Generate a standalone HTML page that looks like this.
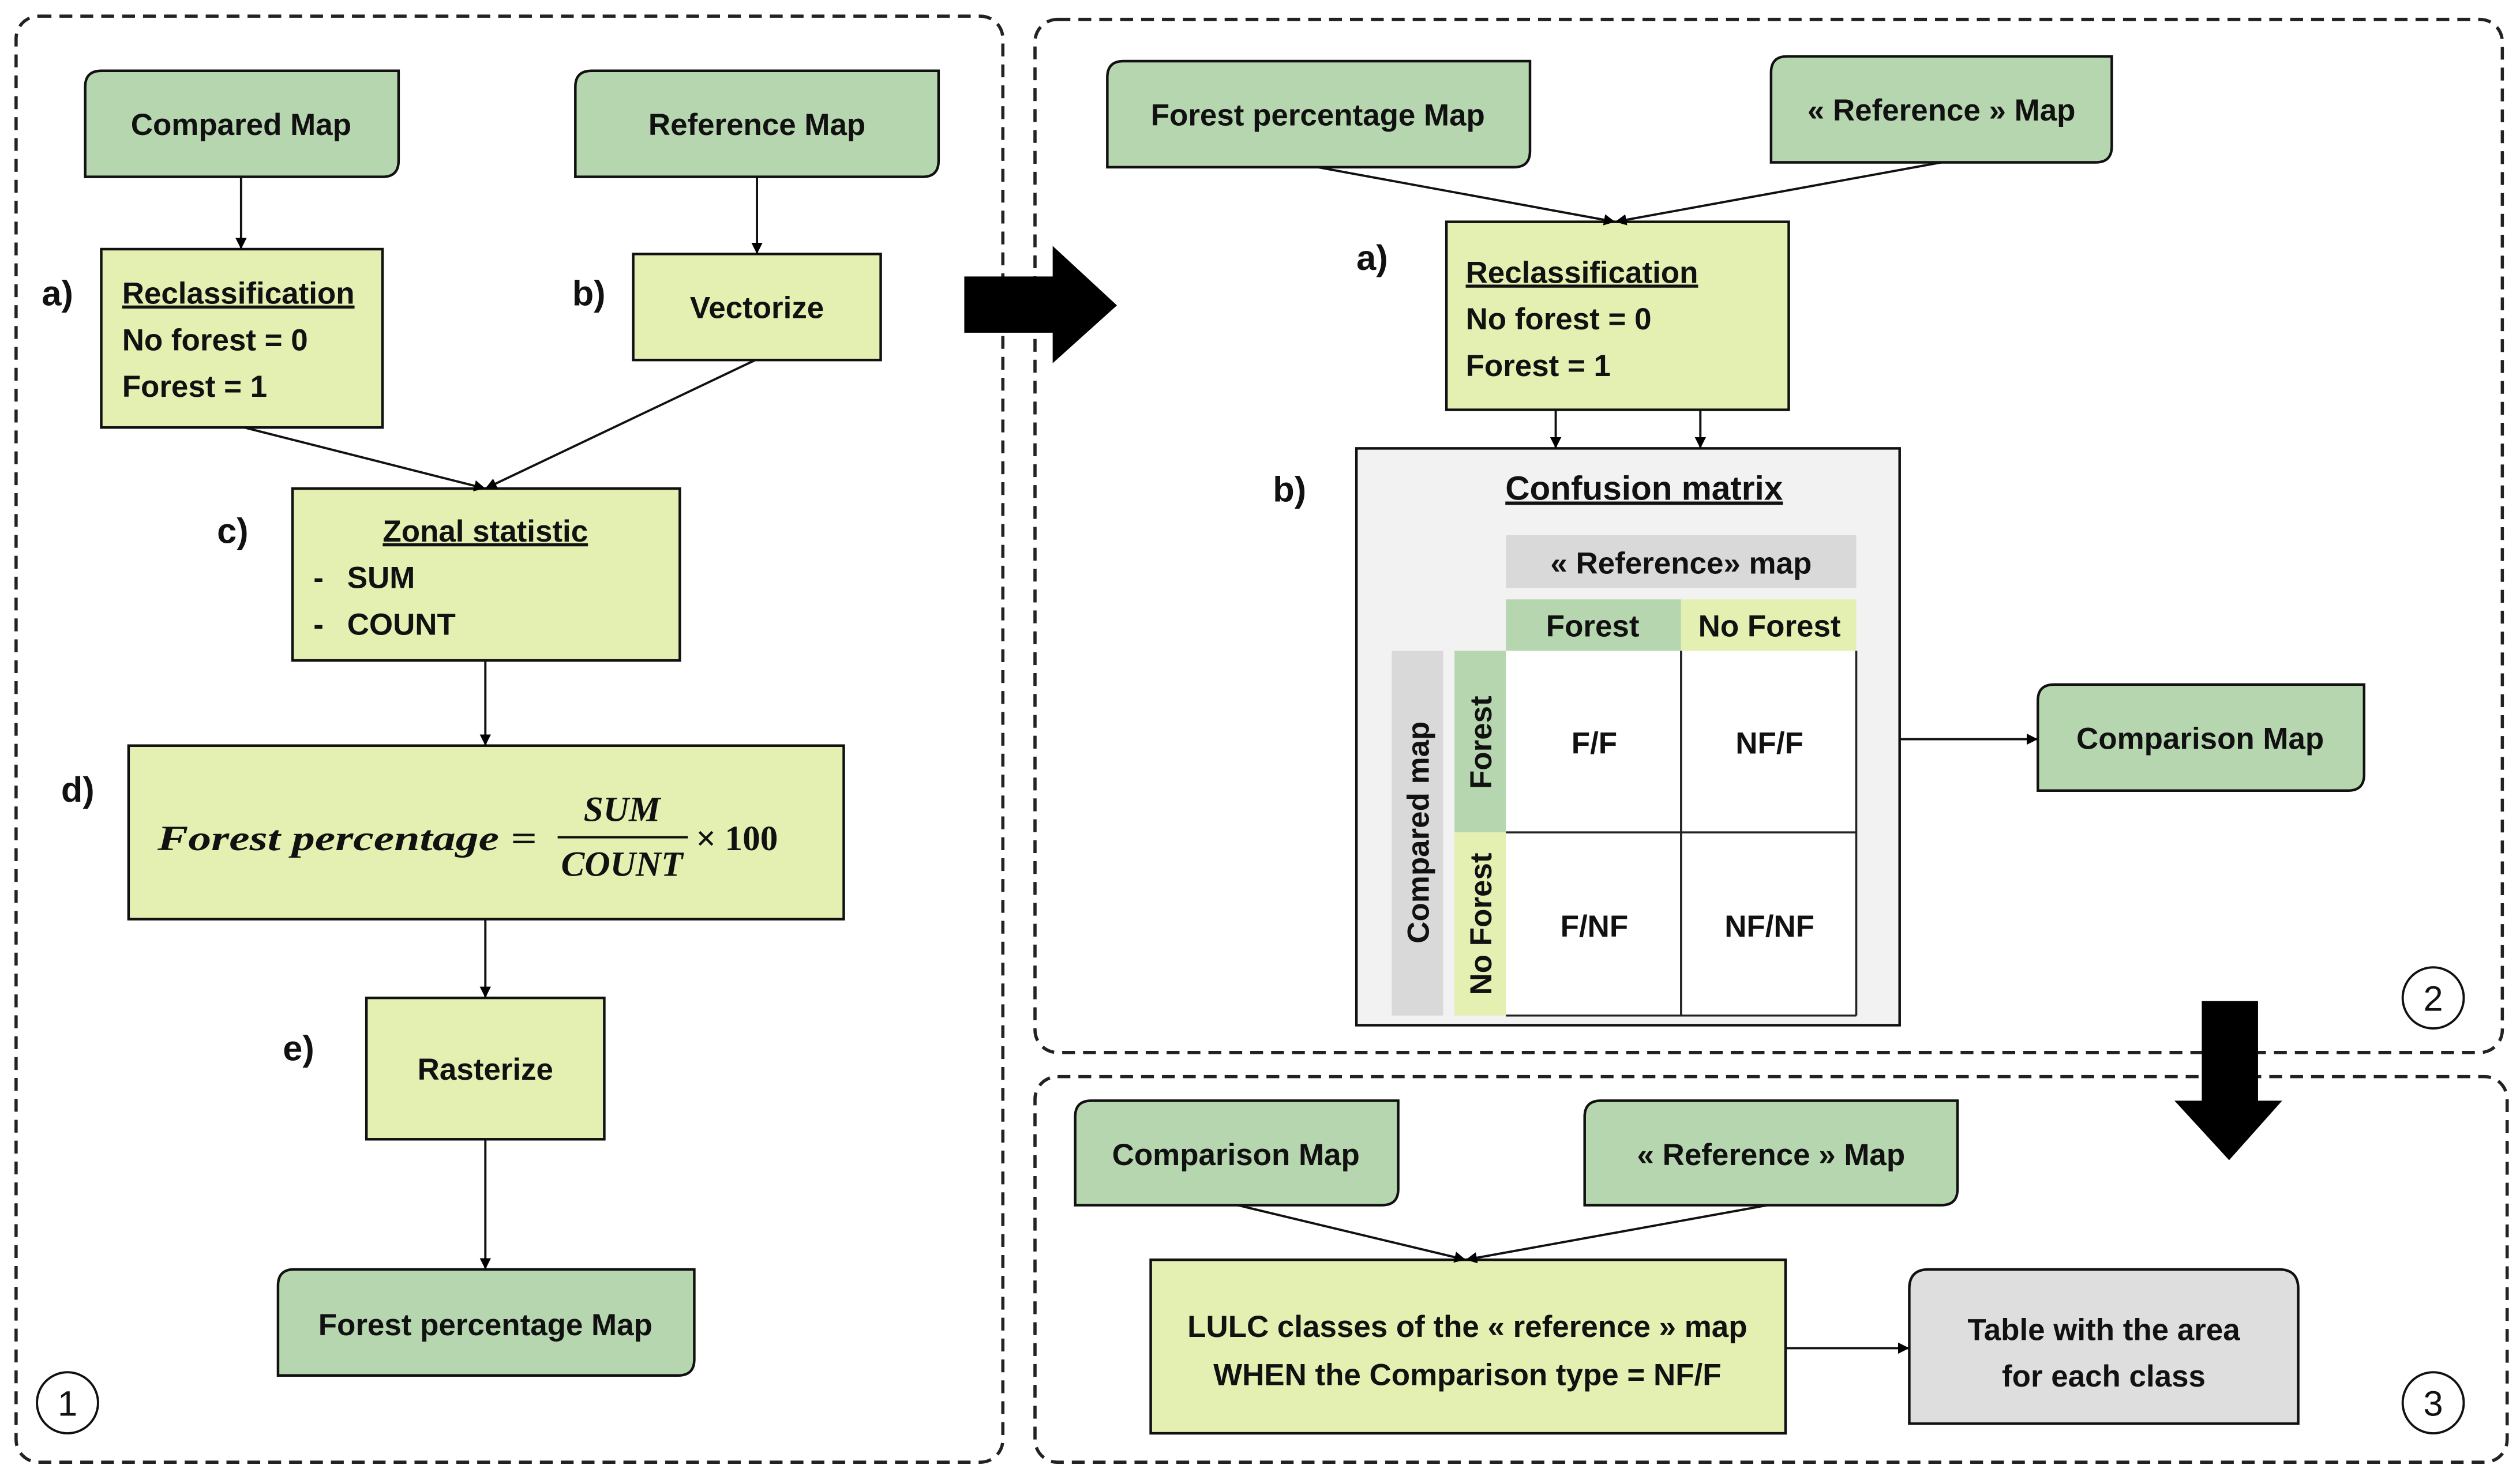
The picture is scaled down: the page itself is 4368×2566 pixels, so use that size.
<!DOCTYPE html>
<html><head><meta charset="utf-8"><style>
html,body{margin:0;padding:0;background:#fff;}
svg{display:block;}
text{font-family:"Liberation Sans",sans-serif;font-weight:bold;fill:#111;}
.u{text-decoration:underline;}
</style></head><body>
<svg width="4368" height="2566" viewBox="0 0 1568 921" xmlns="http://www.w3.org/2000/svg">
<defs>
<marker id="ah" viewBox="0 0 10 10" refX="10" refY="5" markerWidth="7" markerHeight="7" markerUnits="userSpaceOnUse" orient="auto">
<path d="M0,0 L10,5 L0,10 z" fill="#000"/></marker>
</defs>
<g fill="none" stroke="#222" stroke-width="2" stroke-dasharray="8,5">
<rect x="10" y="10" width="614" height="900" rx="14"/>
<rect x="644" y="12" width="913" height="643" rx="14"/>
<rect x="644" y="670" width="916" height="240" rx="14"/>
</g>
<path d="M600,172 H655 V153 L695,190 L655,226 V207 H600 Z" fill="#000"/>
<path d="M1370,623 H1405 V685 H1420 L1387,722 L1353,685 H1370 Z" fill="#000"/>
<g stroke="#111" stroke-width="1.6">
<path d="M63,44 H248 V100 Q248,110 238,110 H53 V54 Q53,44 63,44 Z" fill="#b6d6b0"/>
<path d="M368,44 H584 V100 Q584,110 574,110 H358 V54 Q358,44 368,44 Z" fill="#b6d6b0"/>
<path d="M183,790 H432 V846 Q432,856 422,856 H173 V800 Q173,790 183,790 Z" fill="#b6d6b0"/>
<path d="M699,38 H952 V94 Q952,104 942,104 H689 V48 Q689,38 699,38 Z" fill="#b6d6b0"/>
<path d="M1112,35 H1314 V91 Q1314,101 1304,101 H1102 V45 Q1102,35 1112,35 Z" fill="#b6d6b0"/>
<path d="M1278,426 H1471 V482 Q1471,492 1461,492 H1268 V436 Q1268,426 1278,426 Z" fill="#b6d6b0"/>
<path d="M679,685 H870 V740 Q870,750 860,750 H669 V695 Q669,685 679,685 Z" fill="#b6d6b0"/>
<path d="M996,685 H1218 V740 Q1218,750 1208,750 H986 V695 Q986,685 996,685 Z" fill="#b6d6b0"/>
<path d="M1200,790 H1418 Q1430,790 1430,802 V886 H1188 V802 Q1188,790 1200,790 Z" fill="#dedede"/>
<rect x="63" y="155" width="175" height="111" fill="#e4efb2"/>
<rect x="394" y="158" width="154" height="66" fill="#e4efb2"/>
<rect x="182" y="304" width="241" height="107" fill="#e4efb2"/>
<rect x="80" y="464" width="445" height="108" fill="#e4efb2"/>
<rect x="228" y="621" width="148" height="88" fill="#e4efb2"/>
<rect x="900" y="138" width="213" height="117" fill="#e4efb2"/>
<rect x="716" y="784" width="395" height="108" fill="#e4efb2"/>
<rect x="844" y="279" width="338" height="359" fill="#f2f2f2"/>
</g>
<rect x="937" y="333" width="218" height="33" fill="#d9d9d9"/>
<rect x="937" y="373" width="109" height="32" fill="#b6d6b0"/>
<rect x="1046" y="373" width="109" height="32" fill="#e4efb2"/>
<rect x="905" y="405" width="32" height="113" fill="#b6d6b0"/>
<rect x="905" y="518" width="32" height="114" fill="#e4efb2"/>
<rect x="866" y="405" width="32" height="227" fill="#d9d9d9"/>
<rect x="937" y="405" width="218" height="227" fill="#fff"/>
<g stroke="#222" stroke-width="1.3" fill="none">
<path d="M1046,405 V632 M937,518 H1155 M1155,405 V632 M937,632 H1155"/>
</g>
<g stroke="#111" stroke-width="1.4" fill="none" marker-end="url(#ah)">
<line x1="150" y1="110" x2="150" y2="155"/>
<line x1="471" y1="110" x2="471" y2="158"/>
<line x1="152" y1="266" x2="302" y2="304"/>
<line x1="470" y1="224" x2="302" y2="304"/>
<line x1="302" y1="411" x2="302" y2="464"/>
<line x1="302" y1="572" x2="302" y2="621"/>
<line x1="302" y1="709" x2="302" y2="790"/>
<line x1="820" y1="104" x2="1005" y2="138"/>
<line x1="1208" y1="101" x2="1005" y2="138"/>
<line x1="968" y1="255" x2="968" y2="279"/>
<line x1="1058" y1="255" x2="1058" y2="279"/>
<line x1="1182" y1="460" x2="1268" y2="460"/>
<line x1="770" y1="750" x2="912" y2="784"/>
<line x1="1100" y1="750" x2="912" y2="784"/>
<line x1="1111" y1="839" x2="1188" y2="839"/>
</g>
<g fill="none" stroke="#111" stroke-width="1.4">
<circle cx="42" cy="873" r="19"/><circle cx="1514" cy="621" r="19"/><circle cx="1514" cy="873" r="19"/>
</g>
<g font-size="22" text-anchor="middle">
<text x="42" y="881" style="font-weight:normal">1</text>
<text x="1514" y="629" style="font-weight:normal">2</text>
<text x="1514" y="881" style="font-weight:normal">3</text>
</g>
<g font-size="19" text-anchor="middle">
<text x="150" y="84">Compared Map</text>
<text x="471" y="84">Reference Map</text>
<text x="471" y="198">Vectorize</text>
<text x="302" y="672">Rasterize</text>
<text x="302" y="831">Forest percentage Map</text>
<text x="820" y="78">Forest percentage Map</text>
<text x="1208" y="75">« Reference » Map</text>
<text x="1369" y="466">Comparison Map</text>
<text x="769" y="725">Comparison Map</text>
<text x="1102" y="725">« Reference » Map</text>
<text x="913" y="832">LULC classes of the « reference » map</text>
<text x="913" y="862">WHEN the Comparison type = NF/F</text>
<text x="1309" y="834">Table with the area</text>
<text x="1309" y="863">for each class</text>
<text x="1046" y="357">« Reference» map</text>
<text x="991" y="396">Forest</text>
<text x="1101" y="396">No Forest</text>
<text x="992" y="469">F/F</text>
<text x="1101" y="469">NF/F</text>
<text x="992" y="583">F/NF</text>
<text x="1101" y="583">NF/NF</text>
<text transform="translate(928,462) rotate(-90)">Forest</text>
<text transform="translate(928,575) rotate(-90)">No Forest</text>
<text transform="translate(889,518) rotate(-90)">Compared map</text>
</g>
<text x="1023" y="311" font-size="21" text-anchor="middle" class="u">Confusion matrix</text>
<g font-size="19">
<text x="76" y="189" class="u">Reclassification</text>
<text x="76" y="218">No forest = 0</text>
<text x="76" y="247">Forest = 1</text>
<text x="912" y="176" class="u">Reclassification</text>
<text x="912" y="205">No forest = 0</text>
<text x="912" y="234">Forest = 1</text>
<text x="302" y="337" text-anchor="middle" class="u">Zonal statistic</text>
<text x="195" y="366">-</text><text x="216" y="366">SUM</text>
<text x="195" y="395">-</text><text x="216" y="395">COUNT</text>
</g>
<g font-size="22">
<text x="26" y="190">a)</text>
<text x="356" y="190">b)</text>
<text x="135" y="338">c)</text>
<text x="38" y="499">d)</text>
<text x="176" y="660">e)</text>
<text x="844" y="168">a)</text>
<text x="792" y="312">b)</text>
</g>
<g font-size="22">
<text x="98" y="529" textLength="236" lengthAdjust="spacingAndGlyphs" style="font-family:'Liberation Serif',serif;font-style:italic">Forest percentage =</text>
<text x="387" y="511" text-anchor="middle" style="font-family:'Liberation Serif',serif;font-style:italic">SUM</text>
<text x="387" y="545" text-anchor="middle" style="font-family:'Liberation Serif',serif;font-style:italic">COUNT</text>
<text x="433" y="529" style="font-family:'Liberation Serif',serif;font-style:normal">× 100</text>
</g>
<line x1="347" y1="521" x2="428" y2="521" stroke="#111" stroke-width="1.5"/>
</svg>
</body></html>
